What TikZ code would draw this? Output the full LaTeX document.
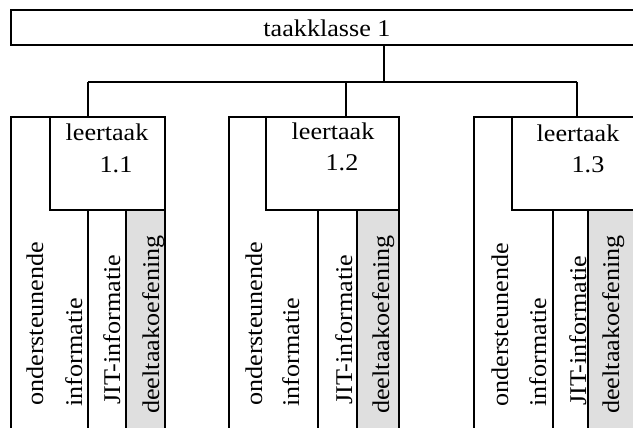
\documentclass[tikz,border=0pt]{standalone}
\usepackage{fontspec}
\setmainfont[FakeStretch=1.09]{Liberation Serif}
\begin{document}
\begin{tikzpicture}[x=1pt,y=-1pt,line width=2.4pt,
  lbl/.style={font=\fontsize{24}{28}\selectfont,inner sep=0pt},
  vlbl/.style={lbl,rotate=90,anchor=base west},
  hlbl/.style={lbl,anchor=base},
  boxst/.style={draw,inner sep=0pt,outer sep=0pt,minimum height=93pt},
  shadest/.style={fill=gray!25,draw=none}]
\useasboundingbox (0,0) rectangle (633,428);
\clip (0,0) rectangle (633,428);
% top box
\draw (11,10) rectangle (660,45);
\node[hlbl] (tk) at (327,37) {taakklasse 1};
\coordinate (tkb) at (384,45);
\coordinate (bus) at (384,82);
\coordinate (busL) at (88,82);
\coordinate (busM) at (346,82);
\coordinate (busR) at (577,82);
% shaded columns
\fill[shadest] (126,210) rectangle (165,440);
\fill[shadest] (357,210) rectangle (399,440);
\fill[shadest] (588,210) rectangle (644,440);
% inner boxes
\node[boxst,minimum width=115pt] (lt1) at (107.5,163.5) {};
\node[boxst,minimum width=133pt] (lt2) at (332.5,163.5) {};
\node[boxst,minimum width=132pt] (lt3) at (578,163.5) {};
% connectors
\draw (tkb) -- (bus);
\draw (busL) -- (busR);
\draw (busL) -- (busL |- lt1.north);
\draw (busM) -- (busM |- lt2.north);
\draw (busR) -- (busR |- lt3.north);
% group 1 frame
\draw (11,440) -- (11,117) -- (lt1.north west);
\draw (lt1.south east) -- (165,440);
\draw (88,210) -- (88,440);
\draw (126,210) -- (126,440);
% group 2 frame
\draw (229,440) -- (229,117) -- (lt2.north west);
\draw (lt2.south east) -- (399,440);
\draw (318,210) -- (318,440);
\draw (357,210) -- (357,440);
% group 3 frame
\draw (474,440) -- (474,117) -- (lt3.north west);
\draw (lt3.south east) -- (644,440);
\draw (553,210) -- (553,440);
\draw (588,210) -- (588,440);
% labels group 1
\node[hlbl] (l1a) at (107,141) {leertaak};
\node[hlbl] (l1b) at (116,172) {1.1};
\node[vlbl] (o1) at (43,407) {ondersteunende};
\node[vlbl] (i1) at (82,408) {informatie};
\node[vlbl] (j1) at (120,406) {JIT-informatie};
\node[vlbl] (d1) at (159,415) {deeltaakoefening};
% labels group 2
\node[hlbl] (l2a) at (333,140) {leertaak};
\node[hlbl] (l2b) at (342,171) {1.2};
\node[vlbl] (o2) at (262,407) {ondersteunende};
\node[vlbl] (i2) at (299,408) {informatie};
\node[vlbl] (j2) at (352,406) {JIT-informatie};
\node[vlbl] (d2) at (389,415) {deeltaakoefening};
% labels group 3
\node[hlbl] (l3a) at (578,142) {leertaak};
\node[hlbl] (l3b) at (588,172) {1.3};
\node[vlbl] (o3) at (508,408) {ondersteunende};
\node[vlbl] (i3) at (546,408) {informatie};
\node[vlbl] (j3) at (586,407) {JIT-informatie};
\node[vlbl] (d3) at (619,415) {deeltaakoefening};
\end{tikzpicture}
\end{document}
